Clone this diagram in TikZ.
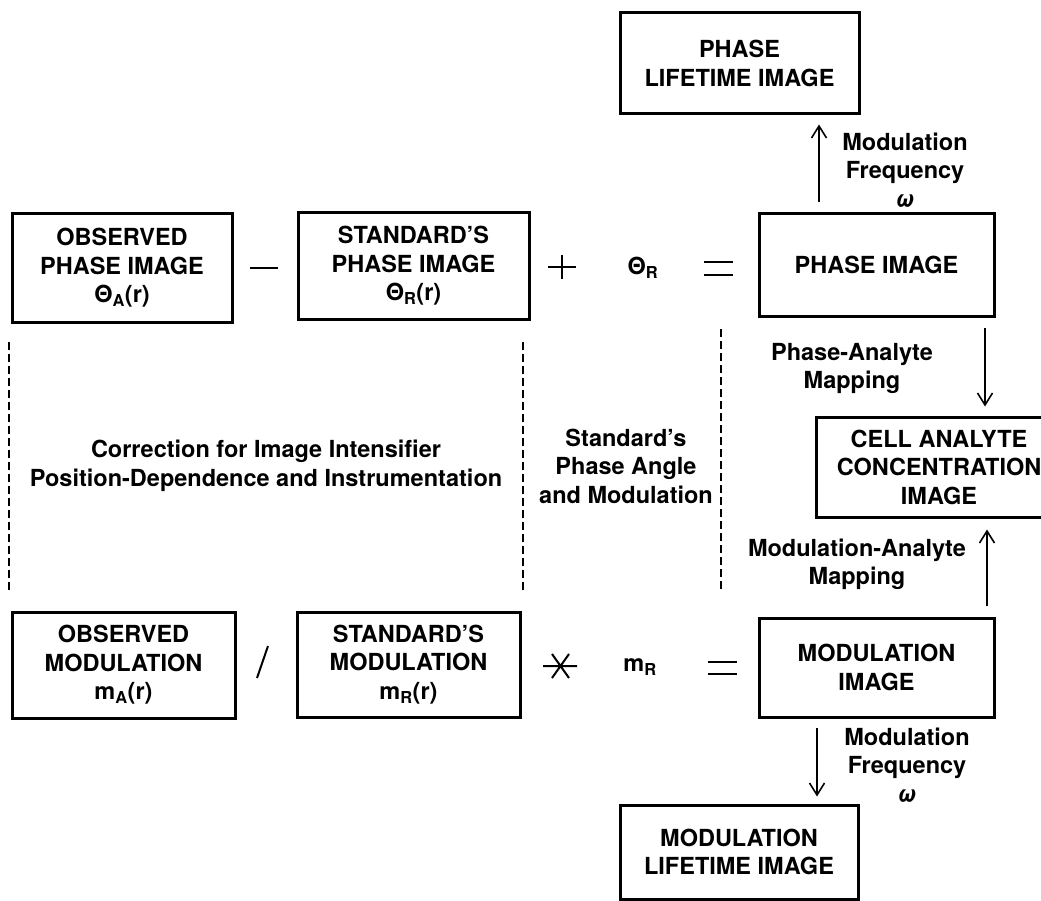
\documentclass[tikz,border=0pt]{standalone}
\usepackage{fontspec}
\setmainfont{TeX Gyre Heros}
\usetikzlibrary{arrows.meta,calc}
\begin{document}
\begin{tikzpicture}[x=1pt,y=-1pt,
  txt/.style={font=\fontsize{23.5}{28.5}\selectfont\bfseries, align=center, inner sep=0pt},
  box/.style={txt, draw, line width=3pt},
  arr/.style={line width=1.6pt, -{Straight Barb[length=12pt,width=15pt,line width=1.6pt]}},
  dsh/.style={line width=1.5pt, dash pattern=on 8pt off 4pt},
  op/.style={line width=2pt}]
\clip (0,0) rectangle (1041,901);
% boxes
\node[box, minimum width=220pt, minimum height=108pt] (obsP) at (122,268) {OBSERVED\\PHASE IMAGE\\Θ\textsubscript{A}(r)};
\node[box, minimum width=231pt, minimum height=106pt] (stdP) at (413.5,266) {STANDARD’S\\PHASE IMAGE\\Θ\textsubscript{R}(r)};
\node[box, minimum width=235pt, minimum height=102pt] (phase) at (876.5,265) {PHASE IMAGE};
\node[box, minimum width=239pt, minimum height=101pt] (phaseLife) at (739.5,63.5) {PHASE\\LIFETIME IMAGE};
\node[box, minimum width=246pt, minimum height=100pt] (cell) at (939,467) {CELL ANALYTE\\CONCENTRATION\\IMAGE};
\node[box, minimum width=223pt, minimum height=106pt] (obsM) at (123.5,665) {OBSERVED\\MODULATION\\m\textsubscript{A}(r)};
\node[box, minimum width=223pt, minimum height=105pt] (stdM) at (408.5,664.5) {STANDARD’S\\MODULATION\\m\textsubscript{R}(r)};
\node[box, minimum width=235pt, minimum height=99pt] (modImg) at (876.5,667.5) {MODULATION\\IMAGE};
\node[box, minimum width=238pt, minimum height=94pt] (modLife) at (739,852) {MODULATION\\LIFETIME IMAGE};
% symbols in the equations
\node[txt] (thR) at (643,268) {Θ\textsubscript{R}};
\node[txt] (mR) at (640,667) {m\textsubscript{R}};
\draw[op] (250,268) -- (278,268);
\draw[op] (548,267) -- (576,267) (562,255) -- (562,279);
\draw[op] (704,262) -- (733,262) (704,275) -- (733,275);
\draw[op] (268,646) -- (257,678);
\draw[op] (543,666) -- (577,666) (552,654) -- (569,678) (569,654) -- (552,678);
\draw[op] (708,662) -- (737,662) (708,674) -- (737,674);
% labels
\node[txt] (mf1) at (905,170) {Modulation\\Frequency\\{\itshape ω}};
\node[txt] (mf2) at (907,765) {Modulation\\Frequency\\{\itshape ω}};
\node[txt] (pam) at (852,368.5) {Phase-Analyte\\Mapping};
\node[txt] (mam) at (857,564.5) {Modulation-Analyte\\Mapping};
\node[txt] (corr) at (266,466) {Correction for Image Intensifier\\Position-Dependence and Instrumentation};
\node[txt] (stdl) at (626,466) {Standard’s\\Phase Angle\\and Modulation};
% dashed separators
\draw[dsh] (9,342) -- (9,590);
\draw[dsh] (523,342) -- (523,590);
\draw[dsh] (721,329) -- (721,590);
% arrows
\coordinate (xa) at (819,0);
\coordinate (xb) at (985,0);
\coordinate (xc) at (987,0);
\coordinate (xd) at (817,0);
\draw[arr] ([yshift=10pt]phase.north -| xa) -- ([yshift=-9pt]phaseLife.south -| xa);
\draw[arr] ([yshift=-10pt]phase.south -| xb) -- ([yshift=9pt]cell.north -| xb);
\draw[arr] ([yshift=11pt]modImg.north -| xc) -- ([yshift=-11pt]cell.south -| xc);
\draw[arr] ([yshift=-9pt]modImg.south -| xd) -- ([yshift=7pt]modLife.north -| xd);
\end{tikzpicture}
\end{document}
